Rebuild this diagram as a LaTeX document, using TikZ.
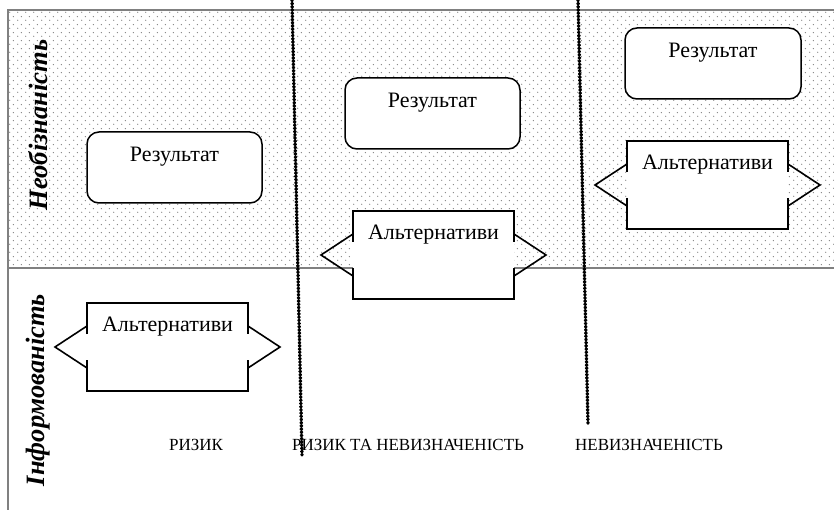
\documentclass[tikz,border=0pt]{standalone}
\usepackage{fontspec}
\setmainfont{Liberation Serif}
\usepackage{tikz}
\usetikzlibrary{calc,patterns}

\pgfdeclarepatternformonly{finedots}{\pgfpointorigin}{\pgfpoint{8pt}{8pt}}{\pgfpoint{8pt}{8pt}}{%
  \pgfpathcircle{\pgfpoint{2pt}{2pt}}{0.75pt}%
  \pgfpathcircle{\pgfpoint{6pt}{6pt}}{0.75pt}%
  \pgfusepath{fill}}

\tikzset{
  frameline/.style={draw=gray, line width=1.6pt},
  zoneline/.style={line width=3.4pt, dash pattern=on 0.8pt off 2.4pt, line cap=round},
  resultbox/.style={draw, fill=white, line width=1.5pt, rounded corners=12pt,
    inner sep=0pt, outer sep=0pt, anchor=north west, minimum width=175pt, minimum height=71pt},
  altbox/.style={fill=white, inner sep=0pt, outer sep=0pt, anchor=north west,
    minimum width=161pt, minimum height=88pt},
  altline/.style={line width=1.6pt},
  boxtext/.style={font=\fontsize{22}{24}\selectfont, inner sep=0pt},
  zonelabel/.style={font=\fontsize{17}{19}\selectfont, inner sep=0pt},
  sidelabel/.style={font=\fontsize{26.5}{28}\selectfont\bfseries\itshape, rotate=90, inner sep=0pt}
}

% box with a notch on each side
\newcommand{\alternatyvy}[3]{%
  \node[altbox] (#1) at (#2,#3) {};
  \draw[altline] ($(#1.north west)+(0,31)$) -- (#1.north west) -- (#1.north east) -- ($(#1.north east)+(0,31)$);
  \draw[altline] ($(#1.south west)+(0,-31)$) -- (#1.south west) -- (#1.south east) -- ($(#1.south east)+(0,-31)$);
  \draw[altline] ($(#1.north west)+(0,23)$) -- ($(#1.west)+(-32,0)$) -- ($(#1.south west)+(0,-23)$);
  \draw[altline] ($(#1.north east)+(0,23)$) -- ($(#1.east)+(32,0)$) -- ($(#1.south east)+(0,-23)$);
  \node[boxtext] (#1-text) at ([yshift=-24pt]#1.north) {Альтернативи};
}

\begin{document}
\begin{tikzpicture}[x=1pt,y=-1pt]
\useasboundingbox (0,0) rectangle (834,510);

% upper zone
\fill[pattern=finedots, pattern color=gray] (8,10) rectangle (834,268);
\draw[frameline] (834,10) -- (8,10) -- (8,510);
\draw[frameline] (8,268) -- (834,268);

% results
\node[resultbox] (res1) at (87,132) {};
\node[boxtext] (res1-text) at ([yshift=-25pt]res1.north) {Результат};
\node[resultbox] (res2) at (345,78) {};
\node[boxtext] (res2-text) at ([yshift=-25pt]res2.north) {Результат};
\node[resultbox, minimum width=176pt] (res3) at (625,28) {};
\node[boxtext] (res3-text) at ([yshift=-25pt]res3.north) {Результат};

% alternatives
\alternatyvy{alt1}{87}{303}
\alternatyvy{alt2}{353}{211}
\alternatyvy{alt3}{627}{141}

% zone borders
\coordinate (b1top) at (292,0);
\coordinate (b1end) at (302,455);
\coordinate (b2top) at (578,0);
\coordinate (b2end) at (588,424);
\draw[zoneline] (b1top) -- (b1end);
\draw[zoneline] (b2top) -- (b2end);

% labels
\node[sidelabel] (neobiz) at (38,125) {Необізнаність};
\node[sidelabel] (inform) at (38,390) {Інформованість};
\node[zonelabel] (ryzyk) at (196,445) {РИЗИК};
\node[zonelabel] (ryzyk-nev) at (408,445) {РИЗИК ТА НЕВИЗНАЧЕНІСТЬ};
\node[zonelabel] (nevyzn) at (649,445) {НЕВИЗНАЧЕНІСТЬ};
\end{tikzpicture}
\end{document}
